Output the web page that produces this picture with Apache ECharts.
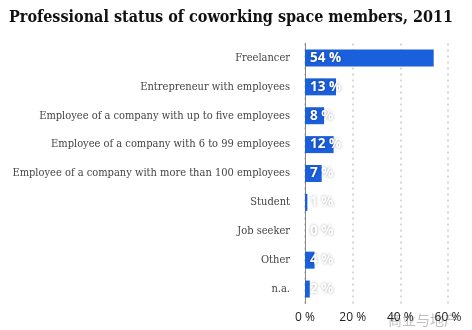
<!DOCTYPE html>
<html><head><meta charset="utf-8">
<script src="https://cdn.jsdelivr.net/npm/echarts@6/dist/echarts.min.js"></script>
<style>html,body{margin:0;padding:0;background:#fff}#c{width:472px;height:330px}</style>
</head><body><div id="c"></div>
<script>
const title = 'Professional status of coworking space members, 2011';
const categories = ['Freelancer','Entrepreneur with employees','Employee of a company with up to five employees','Employee of a company with 6 to 99 employees','Employee of a company with more than 100 employees','Student','Job seeker','Other','n.a.'];
const values = [54,13,8,12,7,1,0,4,2];
const xTicks = [0,20,40,60];

const chart = echarts.init(document.getElementById('c'));
chart.setOption({
  animation:false,
  title:{text:title,left:4,top:5,textStyle:{fontFamily:'"DejaVu Serif Condensed","DejaVu Serif"',fontWeight:'bold',fontSize:16,color:'#111'}},
  grid:{left:305,right:24,top:43.5,bottom:26.5,containLabel:false,outerBoundsMode:'none'},
  xAxis:{type:'value',min:xTicks[0],max:xTicks[xTicks.length-1],interval:20,
    axisLine:{show:false},axisTick:{show:false},
    axisLabel:{formatter:v=>v+' %',color:'#222',fontFamily:'"Open Sans"',fontSize:12,margin:8},
    splitLine:{show:true,lineStyle:{type:[2,4],color:'#c8c8c8',width:1.5}}},
  yAxis:{type:'category',data:categories,inverse:true,
    axisLine:{show:true,lineStyle:{color:'#888',width:1}},axisTick:{show:false},
    axisLabel:{color:'#444',fontFamily:'"DejaVu Serif Condensed","DejaVu Serif"',fontSize:11,margin:15}},
  series:[{type:'bar',data:values,barWidth:17,itemStyle:{color:'#1a5fdc'},
    label:{show:true,position:'insideLeft',distance:5,formatter:p=>p.value+' %',
      color:'#fff',fontFamily:'"Open Sans"',fontWeight:'bold',fontSize:13.5,
      textShadowColor:'rgba(0,0,0,0.35)',textShadowBlur:3}}],
  graphic:[{type:'text',right:14,bottom:3,style:{text:'商业与地产',fill:'rgba(150,150,150,0.6)',font:'14px "Noto Sans CJK SC"'}}]
});
</script></body></html>
